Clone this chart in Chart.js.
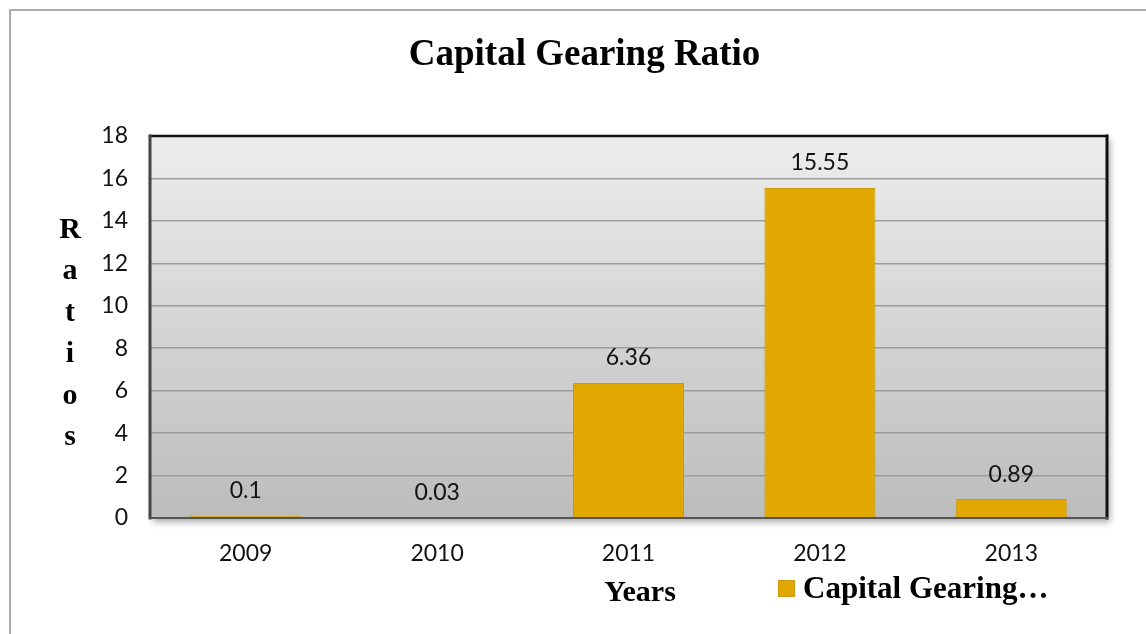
<!DOCTYPE html>
<html>
<head>
<meta charset="utf-8">
<title>Capital Gearing Ratio</title>
<script src="https://cdn.jsdelivr.net/npm/chart.js@4.4.1/dist/chart.umd.min.js"></script>
<style>
    html, body { margin: 0; padding: 0; background: #fff; overflow: hidden; }
    #wrap { width: 1146px; height: 634px; position: relative; }
</style>
</head>
<body>
<div id="wrap"><canvas id="gearingChart" width="1146" height="634"></canvas></div>
<script>
// ========== DATA ==========
const years = ["2009", "2010", "2011", "2012", "2013"];
const gearingRatios = [0.1, 0.03, 6.36, 15.55, 0.89];
const yMin = 0;
const yMax = 18;
const yStep = 2;
const seriesName = "Capital Gearing Ratio";
const legendText = "Capital Gearing\u2026";
const yTitleLetters = ["R", "a", "t", "i", "o", "s"];
const xTitle = "Years";

const barColor = "#E0A800";
const serif = "'Liberation Serif', 'Times New Roman', serif";
const sans = "Lato, 'Open Sans', sans-serif";

// ========== PLOT AREA BACKGROUND / BORDER ==========
const plotFrame = {
    id: "plotFrame",
    beforeDraw(chart) {
        const { ctx, chartArea: a } = chart;
        ctx.save();
        // outer chart frame
        ctx.strokeStyle = "#ababab";
        ctx.lineWidth = 2;
        ctx.beginPath();
        ctx.moveTo(10, 700);
        ctx.lineTo(10, 10);
        ctx.lineTo(1200, 10);
        ctx.stroke();

        // shadow under plot area
        ctx.shadowColor = "rgba(0,0,0,0.35)";
        ctx.shadowBlur = 7;
        ctx.shadowOffsetX = 3;
        ctx.shadowOffsetY = 4;
        ctx.fillStyle = "#bdbdbd";
        ctx.fillRect(a.left, a.top, a.right - a.left, a.bottom - a.top);
        ctx.restore();

        ctx.save();
        const g = ctx.createLinearGradient(0, a.top, 0, a.bottom);
        g.addColorStop(0, "#ededed");
        g.addColorStop(1, "#bcbcbc");
        ctx.fillStyle = g;
        ctx.fillRect(a.left, a.top, a.right - a.left, a.bottom - a.top);
        ctx.restore();
    },
    afterDraw(chart) {
        const { ctx, chartArea: a } = chart;
        ctx.save();
        ctx.lineCap = "square";
        // top
        ctx.strokeStyle = "#111";
        ctx.lineWidth = 2.5;
        ctx.beginPath(); ctx.moveTo(a.left, a.top); ctx.lineTo(a.right, a.top); ctx.stroke();
        // right
        ctx.lineWidth = 3;
        ctx.beginPath(); ctx.moveTo(a.right, a.top); ctx.lineTo(a.right, a.bottom); ctx.stroke();
        // left
        ctx.strokeStyle = "#444";
        ctx.lineWidth = 3;
        ctx.beginPath(); ctx.moveTo(a.left, a.top); ctx.lineTo(a.left, a.bottom); ctx.stroke();
        // bottom
        ctx.strokeStyle = "#555";
        ctx.lineWidth = 2;
        ctx.beginPath(); ctx.moveTo(a.left, a.bottom); ctx.lineTo(a.right, a.bottom); ctx.stroke();
        ctx.restore();
    }
};

// ========== VALUE LABELS ABOVE BARS ==========
const valueLabels = {
    id: "valueLabels",
    afterDatasetsDraw(chart) {
        const { ctx } = chart;
        const meta = chart.getDatasetMeta(0);
        ctx.save();
        ctx.font = "23px " + sans;
        ctx.fillStyle = "#111";
        ctx.textAlign = "center";
        ctx.textBaseline = "middle";
        meta.data.forEach((bar, i) => {
            ctx.fillText(String(gearingRatios[i]), bar.x, bar.y - 25);
        });
        ctx.restore();
    }
};

// ========== AXIS TITLES + LEGEND ==========
const titlesAndLegend = {
    id: "titlesAndLegend",
    afterDraw(chart) {
        const { ctx } = chart;
        ctx.save();
        ctx.fillStyle = "#000";
        ctx.textAlign = "center";
        ctx.textBaseline = "alphabetic";
        ctx.font = "bold 30px " + serif;
        // stacked y title
        yTitleLetters.forEach((ch, i) => {
            ctx.fillText(ch, 70, 238 + i * 41.4);
        });
        // x title
        ctx.fillText(xTitle, 640, 601);

        // legend
        ctx.fillStyle = barColor;
        ctx.fillRect(778, 580, 17, 17);
        ctx.strokeStyle = "#C99A10";
        ctx.lineWidth = 1;
        ctx.strokeRect(778.5, 580.5, 16, 16);
        ctx.fillStyle = "#000";
        ctx.textAlign = "left";
        ctx.font = "bold 31px " + serif;
        ctx.fillText(legendText, 803, 598);
        ctx.restore();
    }
};

// ========== CHART ==========
const ctx = document.getElementById("gearingChart").getContext("2d");
const gearingChart = new Chart(ctx, {
    type: "bar",
    data: {
        labels: years,
        datasets: [
            {
                label: seriesName,
                data: gearingRatios,
                backgroundColor: barColor,
                borderColor: "#C99A10",
                borderWidth: 1,
                borderSkipped: "bottom",
                barPercentage: 0.58,
                categoryPercentage: 1.0
            }
        ]
    },
    options: {
        responsive: false,
        animation: false,
        layout: {
            padding: { left: 62, right: 39, top: 0, bottom: 0 }
        },
        plugins: {
            legend: { display: false },
            tooltip: { enabled: false },
            title: {
                display: true,
                text: "Capital Gearing Ratio",
                color: "#000",
                font: { family: serif, size: 37, weight: "bold", lineHeight: 1.2 },
                padding: { top: 33, bottom: 58.6 }
            }
        },
        scales: {
            x: {
                grid: { display: false, drawTicks: false },
                border: { display: false },
                ticks: {
                    color: "#111",
                    padding: 22,
                    font: { family: sans, size: 23 }
                },
                afterFit(scale) { scale.height = 116; }
            },
            y: {
                min: yMin,
                max: yMax,
                grid: {
                    color: "#9c9c9c",
                    lineWidth: 1.5,
                    drawTicks: false
                },
                border: { display: false },
                ticks: {
                    stepSize: yStep,
                    color: "#111",
                    padding: 22,
                    font: { family: sans, size: 23 }
                },
                afterFit(scale) { scale.width = 88; }
            }
        }
    },
    plugins: [plotFrame, valueLabels, titlesAndLegend]
});
</script>
</body>
</html>
